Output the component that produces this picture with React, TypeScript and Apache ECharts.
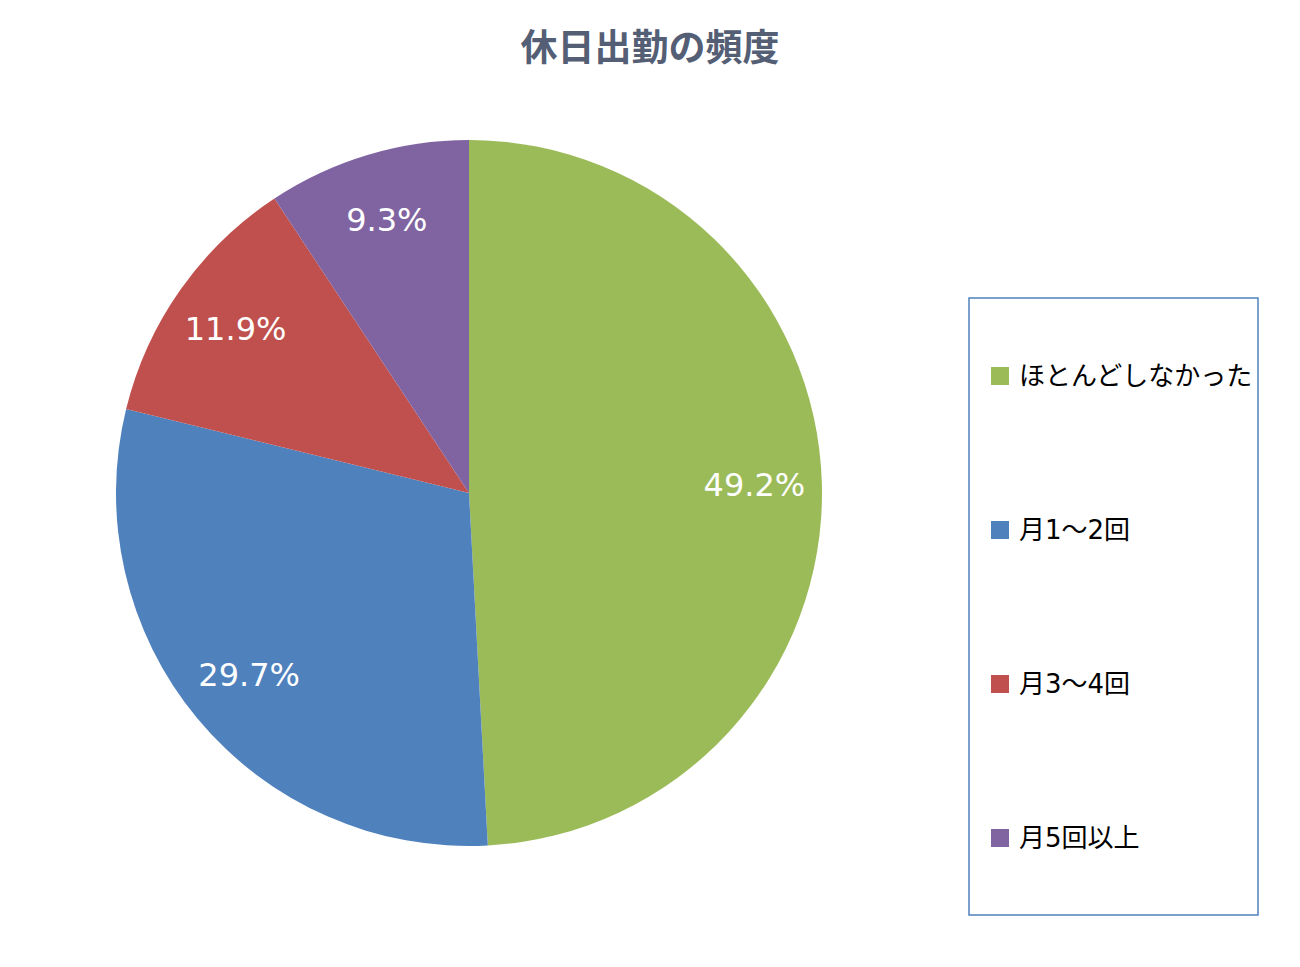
import { useEffect, useRef } from 'react'
import * as echarts from 'echarts'

// 休日出勤の頻度 (percent of respondents)
const categories = ['ほとんどしなかった', '月1～2回', '月3～4回', '月5回以上']
const shares = [49.2, 29.7, 11.9, 9.3]
const sliceColors = ['#9bbb59', '#4f81bd', '#c0504d', '#8064a2']

const JP_FONT = '"Noto Sans CJK JP", "Noto Sans", sans-serif'

const App: React.FC = () => {
  const chartRef = useRef<HTMLDivElement | null>(null)

  useEffect(() => {
    document.body.style.margin = '0'
    if (!chartRef.current) return
    const chart = echarts.init(chartRef.current, null, { renderer: 'svg' })

    const option: echarts.EChartsOption = {
      animation: false,
      backgroundColor: '#ffffff',
      title: {
        text: '休日出勤の頻度',
        left: 'center',
        top: 26,
        padding: 0,
        textStyle: { fontFamily: JP_FONT, fontSize: 37, fontWeight: 'bold', color: '#545e75' },
      },
      // legend frame, drawn separately so its size matches the original box
      graphic: [
        {
          type: 'rect',
          shape: { x: 969, y: 298, width: 289, height: 617 },
          style: { fill: 'none', stroke: '#4f81bd', lineWidth: 1.5 },
          silent: true,
        },
      ],
      legend: {
        orient: 'vertical',
        left: 991,
        top: 361,
        padding: 0,
        itemGap: 124,
        itemWidth: 18,
        itemHeight: 18,
        icon: 'rect',
        data: categories,
        textStyle: {
          fontFamily: '"DejaVu Sans", "Noto Sans CJK JP", sans-serif',
          fontSize: 26,
          lineHeight: 30,
          color: '#000000',
          padding: [0, 0, 0, 5],
        },
      },
      series: [
        {
          type: 'pie',
          center: [469, 493],
          radius: 353,
          startAngle: 90,
          clockwise: true,
          label: { show: false },
          labelLine: { show: false },
          itemStyle: { borderWidth: 0 },
          emphasis: { disabled: true },
          data: categories.map((name, i) => ({
            name,
            value: shares[i],
            itemStyle: { color: sliceColors[i] },
          })),
        },
        {
          // transparent ring only used to place the value labels near the rim
          type: 'pie',
          center: [469, 493],
          radius: [212, 353],
          startAngle: 90,
          clockwise: true,
          silent: true,
          itemStyle: { color: 'transparent', borderWidth: 0 },
          labelLine: { show: false },
          label: {
            show: true,
            position: 'inside',
            formatter: '{c}%',
            color: '#ffffff',
            fontFamily: '"DejaVu Sans", Verdana, sans-serif',
            fontSize: 32,
          },
          data: shares.map(v => ({ value: v })),
        },
      ],
    }

    chart.setOption(option, true)

    return () => {
      chart.dispose()
    }
  }, [])

  return <div ref={chartRef} style={{ width: 1300, height: 967 }} />
}

export default App
